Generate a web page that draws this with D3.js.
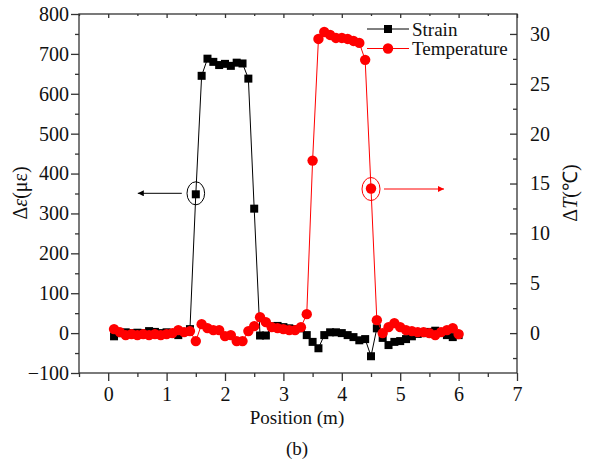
<!DOCTYPE html>
<html>
<head>
<meta charset="utf-8">
<script src="https://cdn.jsdelivr.net/npm/d3@7"></script>
<style>
body { margin: 0; background: #fff; }
svg { font-family: "Liberation Serif", "Times New Roman", serif; }
</style>
</head>
<body>
<div id="chart"></div>
<script>
// position along the fibre (m)
var positions = [0.1,0.2,0.3,0.4,0.5,0.6,0.7,0.8,0.9,1.0,1.1,1.2,1.3,1.4,1.5,1.6,1.7,1.8,1.9,2.0,
  2.1,2.2,2.3,2.4,2.5,2.6,2.7,2.8,2.9,3.0,3.1,3.2,3.3,3.4,3.5,3.6,3.7,3.8,3.9,4.0,
  4.1,4.2,4.3,4.4,4.5,4.6,4.7,4.8,4.9,5.0,5.1,5.2,5.3,5.4,5.5,5.6,5.7,5.8,5.9,6.0];
// strain change (micro strain)
var strain = [-8,0,2,0,1,0,5,3,0,2,0,-5,3,10,348,645,688,680,672,675,
  670,678,676,638,312,-6,-6,17,18,15,12,10,12,-5,-22,-38,-5,2,2,0,
  -5,-10,-18,-15,-58,12,-12,-30,-22,-20,-15,-8,-2,0,3,6,2,-5,-10,-5];
// temperature change (deg C)
var temperature = [0.4,0.1,-0.2,-0.1,-0.2,-0.1,-0.2,-0.1,-0.2,-0.1,0.0,0.3,0.1,0.2,-0.8,0.9,0.5,0.3,0.3,-0.3,
  -0.2,-0.8,-0.8,0.2,0.7,1.6,1.1,0.6,0.5,0.4,0.3,0.3,0.6,1.9,17.3,29.5,30.2,29.9,29.6,29.6,
  29.5,29.3,29.1,27.4,14.5,1.3,0.0,0.6,1.0,0.6,0.3,0.2,0.1,0.1,0.0,-0.2,0.1,0.3,0.5,-0.1];

var xTicks = [0,1,2,3,4,5,6,7];
var yLeftTicks = [-100,0,100,200,300,400,500,600,700,800];
var yRightTicks = [0,5,10,15,20,25,30];

var W = 590, H = 464;
var plotLeft = 79, plotRight = 517, plotTop = 14, plotBottom = 373;

var svg = d3.select("#chart").append("svg")
  .attr("width", W).attr("height", H);

var x = d3.scaleLinear().domain([-0.5, 7]).range([plotLeft, plotRight]);
var yL = d3.scaleLinear().domain([-100, 800]).range([plotBottom, plotTop]);
var yR = d3.scaleLinear().domain([-4, 32]).range([plotBottom, plotTop]);

// frame
svg.append("rect")
  .attr("x", plotLeft).attr("y", plotTop)
  .attr("width", plotRight - plotLeft).attr("height", plotBottom - plotTop)
  .attr("fill", "none").attr("stroke", "#333").attr("stroke-width", 1.3);

function styleAxis(g) {
  g.select(".domain").remove();
  g.selectAll("line").attr("stroke", "#333").attr("stroke-width", 1.3);
  g.selectAll("text").attr("font-size", 20).attr("fill", "#111")
    .attr("font-family", "Liberation Serif");
}

// bottom axis
svg.append("g").attr("transform", "translate(0," + plotBottom + ")")
  .call(d3.axisBottom(x).tickValues(xTicks).tickSize(8).tickPadding(6))
  .call(styleAxis);
svg.append("g").attr("transform", "translate(0," + plotBottom + ")")
  .call(d3.axisBottom(x).tickValues([-0.5,0.5,1.5,2.5,3.5,4.5,5.5,6.5]).tickSize(4).tickFormat(""))
  .call(styleAxis);
// top axis, inward ticks
svg.append("g").attr("transform", "translate(0," + plotTop + ")")
  .call(d3.axisTop(x).tickValues(xTicks).tickSize(-4).tickFormat(""))
  .call(styleAxis);
svg.append("g").attr("transform", "translate(0," + plotTop + ")")
  .call(d3.axisTop(x).tickValues([-0.5,0.5,1.5,2.5,3.5,4.5,5.5,6.5]).tickSize(-2).tickFormat(""))
  .call(styleAxis);

// left axis
svg.append("g").attr("transform", "translate(" + plotLeft + ",0)")
  .call(d3.axisLeft(yL).tickValues(yLeftTicks).tickSize(8).tickPadding(2)
    .tickFormat(function(d) { return d < 0 ? "\u2212" + Math.abs(d) : d; }))
  .call(styleAxis);
svg.append("g").attr("transform", "translate(" + plotLeft + ",0)")
  .call(d3.axisLeft(yL).tickValues([-50,50,150,250,350,450,550,650,750]).tickSize(4).tickFormat(""))
  .call(styleAxis);

// right axis, inward ticks
svg.append("g").attr("transform", "translate(" + plotRight + ",0)")
  .call(d3.axisRight(yR).tickValues(yRightTicks).tickSize(-7).tickPadding(13))
  .call(styleAxis);
svg.append("g").attr("transform", "translate(" + plotRight + ",0)")
  .call(d3.axisRight(yR).tickValues([-2.5,2.5,7.5,12.5,17.5,22.5,27.5]).tickSize(-4).tickFormat(""))
  .call(styleAxis);

// axis titles
var tl = svg.append("text")
  .attr("transform", "translate(27,193) rotate(-90)")
  .attr("text-anchor", "middle").attr("font-size", 20).attr("fill", "#111");
tl.append("tspan").text("\u0394");
tl.append("tspan").attr("font-style", "italic").text("\u03b5");
tl.append("tspan").text("(\u03bc\u03b5)");

var tr = svg.append("text")
  .attr("transform", "translate(577,193) rotate(-90)")
  .attr("text-anchor", "middle").attr("font-size", 20).attr("fill", "#111");
tr.append("tspan").text("\u0394");
tr.append("tspan").attr("font-style", "italic").text("T");
tr.append("tspan").text("(\u2103)");

svg.append("text").attr("x", 297).attr("y", 424)
  .attr("text-anchor", "middle").attr("font-size", 19).attr("fill", "#111")
  .text("Position (m)");
svg.append("text").attr("x", 297).attr("y", 455)
  .attr("text-anchor", "middle").attr("font-size", 19).attr("fill", "#111")
  .text("(b)");

// strain series
var strainData = positions.map(function(p, i) { return [p, strain[i]]; });
var tempData = positions.map(function(p, i) { return [p, temperature[i]]; });

svg.append("path").datum(strainData)
  .attr("fill", "none").attr("stroke", "#000").attr("stroke-width", 1)
  .attr("d", d3.line().x(function(d) { return x(d[0]); }).y(function(d) { return yL(d[1]); }));
svg.selectAll(".sq").data(strainData).enter().append("rect")
  .attr("class", "sq")
  .attr("x", function(d) { return x(d[0]) - 4; })
  .attr("y", function(d) { return yL(d[1]) - 4; })
  .attr("width", 8).attr("height", 8).attr("fill", "#000");

// temperature series
svg.append("path").datum(tempData)
  .attr("fill", "none").attr("stroke", "#ff0000").attr("stroke-width", 1)
  .attr("d", d3.line().x(function(d) { return x(d[0]); }).y(function(d) { return yR(d[1]); }));
svg.selectAll(".dot").data(tempData).enter().append("circle")
  .attr("class", "dot")
  .attr("cx", function(d) { return x(d[0]); })
  .attr("cy", function(d) { return yR(d[1]); })
  .attr("r", 5.2).attr("fill", "#ff0000");

// markers for arrows
var defs = svg.append("defs");
[["arrK", "#000"], ["arrR", "#ff0000"]].forEach(function(a) {
  defs.append("marker").attr("id", a[0])
    .attr("viewBox", "0 0 10 10").attr("refX", 10).attr("refY", 5)
    .attr("markerWidth", 10).attr("markerHeight", 6).attr("markerUnits", "userSpaceOnUse")
    .attr("orient", "auto")
    .append("path").attr("d", "M0,0 L10,5 L0,10 Z").attr("fill", a[1]);
});

// annotation: strain point at 1.5 m -> left axis
var pS = strainData[14];
svg.append("ellipse").attr("cx", x(pS[0])).attr("cy", yL(pS[1]) - 1)
  .attr("rx", 8.8).attr("ry", 11.5)
  .attr("fill", "none").attr("stroke", "#000").attr("stroke-width", 1);
svg.append("line")
  .attr("x1", x(pS[0]) - 14).attr("x2", x(pS[0]) - 58)
  .attr("y1", yL(pS[1]) - 1).attr("y2", yL(pS[1]) - 1)
  .attr("stroke", "#000").attr("stroke-width", 1).attr("marker-end", "url(#arrK)");

// annotation: temperature point at 4.5 m -> right axis
var pT = tempData[44];
svg.append("ellipse").attr("cx", x(pT[0])).attr("cy", yR(pT[1]) + 0.5)
  .attr("rx", 9).attr("ry", 11.5)
  .attr("fill", "none").attr("stroke", "#ff0000").attr("stroke-width", 1);
svg.append("line")
  .attr("x1", x(pT[0]) + 13).attr("x2", x(pT[0]) + 73)
  .attr("y1", yR(pT[1]) + 0.5).attr("y2", yR(pT[1]) + 0.5)
  .attr("stroke", "#ff0000").attr("stroke-width", 1).attr("marker-end", "url(#arrR)");

// legend
var legend = [
  { label: "Strain", color: "#000", shape: "square", y: 29 },
  { label: "Temperature", color: "#ff0000", shape: "circle", y: 48.5 }
];
legend.forEach(function(l) {
  var g = svg.append("g");
  g.append("line").attr("x1", 367).attr("x2", 409).attr("y1", l.y).attr("y2", l.y)
    .attr("stroke", l.color).attr("stroke-width", 1);
  if (l.shape === "square") {
    g.append("rect").attr("x", 384).attr("y", l.y - 4).attr("width", 8).attr("height", 8)
      .attr("fill", l.color);
  } else {
    g.append("circle").attr("cx", 388).attr("cy", l.y).attr("r", 5.2).attr("fill", l.color);
  }
  g.append("text").attr("x", 412).attr("y", l.y + 6.5)
    .attr("font-size", 19).attr("fill", "#111").text(l.label);
});
</script>
</body>
</html>
